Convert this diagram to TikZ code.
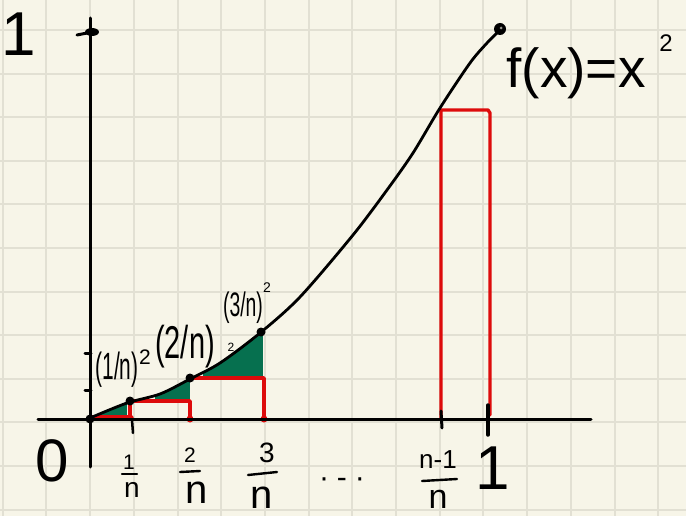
\documentclass[tikz,border=0pt]{standalone}
\usepackage{fontspec}
\setmainfont{Liberation Sans}
\definecolor{paper}{HTML}{F7F5E8}
\definecolor{gridc}{HTML}{E2E0D3}
\definecolor{pen}{HTML}{DD0B0B}
\definecolor{hatch}{HTML}{06704F}
\begin{document}
\begin{tikzpicture}[x=1pt,y=-1pt, line cap=round, line join=round,
  axisline/.style={line width=3pt, black},
  curveline/.style={line width=2.8pt, black},
  redline/.style={line width=3.4pt, pen},
  tickline/.style={line width=3pt, black},
  barline/.style={line width=2.4pt, black},
  lbl/.style={inner sep=0pt, anchor=center},
  dotm/.style={circle, fill=black, inner sep=0pt, minimum size=9pt},
  reddot/.style={circle, fill=pen, inner sep=0pt, minimum size=7pt}]
\fill[paper] (0,0) rectangle (686,516);
\useasboundingbox (0,0) rectangle (686,516);
% grid paper
\foreach \k in {0,...,15} \draw[gridc, line width=2pt] ({2.7+43.7*\k},0) -- ({2.7+43.7*\k},516);
\foreach \k in {0,...,11} \draw[gridc, line width=2pt] (0,{30+43.6*\k}) -- (686,{30+43.6*\k});
% green error regions
\begin{scope}
\clip plot[smooth] coordinates {(90,418) (127,403) (160,394) (190,379) (220,363) (260,333) (300,297) (353,235) (387,190) (413,153) (440,108) (470,63) (487,43) (498,32)} -- (498,419) -- (90,419) -- cycle;
\fill[hatch] (100,395) rectangle (127,415);
\fill[hatch] (155,370) rectangle (190,401);
\fill[hatch] (203,320) rectangle (263,378);
\end{scope}
% red rectangles
\draw[redline, line width=5.5pt] (90,418) -- (131,418);
\draw[redline] (130,419) -- (130,401) -- (190,401) -- (190,419);
\draw[redline] (190,378) -- (264,378) -- (264,419);
\draw[redline] (441,419) -- (441,110) -- (488,110) -- (490,113) -- (490,415);
\node[reddot] (r2) at (190,419) {};
\node[reddot] (r3) at (264,419) {};
% axes
\draw[axisline] (38,419) -- (591,419);
\draw[axisline] (90,18) -- (90,467);
% curve
\draw[curveline] plot[smooth] coordinates {(90,418) (127,403) (160,394) (190,379) (220,363) (260,333) (300,297) (353,235) (387,190) (413,153) (440,108) (470,63) (487,43) (498,32)};
\node[dotm] (p0) at (90,419) {};
\node[dotm] (p1) at (130,401) {};
\node[dotm] (p2) at (190,378) {};
\node[dotm] (p3) at (261,332) {};
\node[circle, fill=black, inner sep=0pt, minimum size=12pt] (pe) at (500,29) {};
\fill[paper!60!black] (501,28) circle (1.5);
% ticks
\fill (92,32) ellipse (7 and 4);
\draw[tickline] (77,35) -- (92,32);
\draw[tickline] (85,353) -- (91,353);
\draw[tickline] (85,390) -- (91,390);
\draw[tickline, line width=2.5pt] (132,420) -- (133,433);
\draw[tickline] (441,411) -- (442,428);
\draw[tickline, line width=3.5pt] (488,405) -- (488,435);
% axis labels
\node[lbl, font=\fontsize{62}{64}\selectfont] (yone) at (19,34) {1};
\node[lbl, font=\fontsize{60}{62}\selectfont] (zero) at (52,461) {0};
\node[lbl, font=\fontsize{62}{64}\selectfont] (xone) at (493,468) {1};
% fractions
\node[lbl, font=\fontsize{21}{22}\selectfont] (n1) at (129,462) {1};
\node[lbl, font=\fontsize{28}{30}\selectfont] (d1) at (132,490) {n};
\draw[barline] (122,474) -- (137,474);
\node[lbl, font=\fontsize{21}{22}\selectfont] (n2) at (190,455) {2};
\node[lbl, font=\fontsize{40}{42}\selectfont] (d2) at (197,493) {n};
\draw[barline] (180,472) -- (200,471);
\node[lbl, font=\fontsize{28}{30}\selectfont] (n3) at (267,453) {3};
\node[lbl, font=\fontsize{40}{42}\selectfont] (d3) at (262,498) {n};
\draw[barline] (248,475) -- (277,472);
\node[lbl, font=\fontsize{26}{28}\selectfont] (nn) at (438,460) {n-1};
\node[lbl, font=\fontsize{34}{36}\selectfont] (dn) at (438,499) {n};
\draw[barline] (422,481) -- (457,479);
\node[lbl, font=\fontsize{30}{32}\selectfont] (dots) at (342,483) {·\hspace{8pt}-\hspace{8pt}·};
% point labels
\node[lbl, font=\fontsize{38}{40}\selectfont] (s1) at (117,370) {\scalebox{0.55}[1]{(1/n)}};
\node[lbl, font=\fontsize{21}{22}\selectfont] (e1) at (145,357) {2};
\node[lbl, font=\fontsize{46}{48}\selectfont] (s2) at (185,347) {\scalebox{0.63}[1]{(2/n)}};
\node[lbl, font=\fontsize{12}{13}\selectfont] (e2) at (231,347) {2};
\node[lbl, font=\fontsize{34}{36}\selectfont] (s3) at (243,308) {\scalebox{0.57}[1]{(3/n)}};
\node[lbl, font=\fontsize{14}{15}\selectfont] (e3) at (267,288) {2};
\node[lbl, font=\fontsize{55}{57}\selectfont] (fx) at (576,73) {f(x)=x};
\node[lbl, font=\fontsize{24}{25}\selectfont] (fx2) at (666,43) {2};
\end{tikzpicture}
\end{document}
